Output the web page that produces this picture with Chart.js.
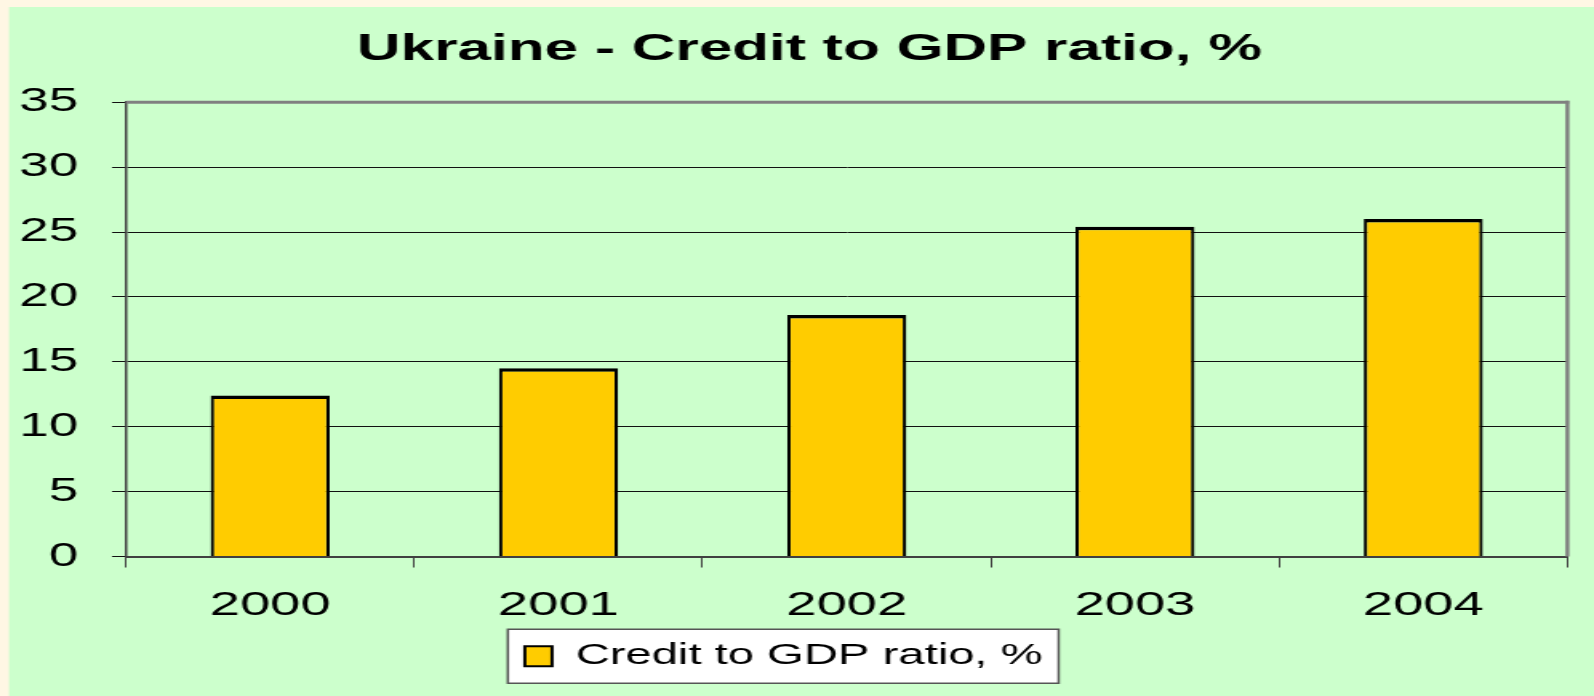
<!DOCTYPE html>
<html>
<head>
<meta charset="utf-8">
<script src="https://cdn.jsdelivr.net/npm/chart.js@4.4.1/dist/chart.umd.min.js"></script>
<style>
  html, body { margin: 0; padding: 0; background: #FFF7E4; overflow: hidden; }
  #wrap { position: absolute; left: 0; top: 0; width: 996px; height: 696px;
          transform-origin: 0 0; transform: scaleX(1.6004016); }
</style>
</head>
<body>
<div id="wrap"><canvas id="c" width="996" height="696" style="width:996px;height:696px;display:block"></canvas></div>
<script>
// ---- data ----
const categories = ['2000', '2001', '2002', '2003', '2004'];
const creditToGdp = [12.4, 14.5, 18.6, 25.4, 26.0];
const seriesLabel = 'Credit to GDP ratio, %';
const chartTitle = 'Ukraine - Credit to GDP ratio, %';
const yMin = 0, yMax = 35, yStep = 5;

// horizontal stretch of the canvas (page width / canvas width)
const SX = 1594 / 996;
const FONT = 'Arial, "Liberation Sans", Helvetica, sans-serif';

const bgPlugin = {
  id: 'bgPlugin',
  afterLayout(chart) {
    // title in the reference sits a little right of the legend's centre
    const t = chart.titleBlock;
    if (t) { t.left += 16; t.right += 16; }
  },
  beforeDraw(chart) {
    const ctx = chart.ctx;
    ctx.save();
    ctx.fillStyle = '#FFF7E4';
    ctx.fillRect(0, 0, chart.width, chart.height);
    ctx.fillStyle = '#CCFFCC';
    ctx.fillRect(9 / SX, 7, chart.width, chart.height);
    // legend frame
    const lg = chart.legend;
    if (lg && lg.legendHitBoxes && lg.legendHitBoxes.length) {
      const hb = lg.legendHitBoxes[0];
      const cy = hb.top + hb.height / 2;
      const x0 = hb.left - 17 / SX;
      const x1 = hb.left + hb.width + 16 / SX;
      ctx.fillStyle = '#FFFFFF';
      ctx.fillRect(x0, cy - 27, x1 - x0, 54);
      ctx.strokeStyle = '#555555';
      ctx.lineWidth = 1.5;
      ctx.strokeRect(x0, cy - 27, x1 - x0, 54);
    }
    ctx.restore();
  },
  afterDraw(chart) {
    const a = chart.chartArea;
    const ctx = chart.ctx;
    ctx.save();
    ctx.strokeStyle = '#808080';
    ctx.lineWidth = 3;
    ctx.beginPath();
    ctx.moveTo(a.left, a.top);
    ctx.lineTo(a.right + 1, a.top);
    ctx.stroke();
    ctx.lineWidth = 4 / SX;
    ctx.beginPath();
    ctx.moveTo(a.right, a.top - 1.5);
    ctx.lineTo(a.right, a.bottom);
    ctx.stroke();
    ctx.restore();
  }
};

new Chart(document.getElementById('c'), {
  type: 'bar',
  data: {
    labels: categories,
    datasets: [{
      label: seriesLabel,
      data: creditToGdp,
      backgroundColor: '#FFCC00',
      borderColor: '#000000',
      borderWidth: { top: 3.5, left: 3.5 / SX, right: 3.5 / SX, bottom: 0 },
      borderSkipped: false,
      categoryPercentage: 1.0,
      barPercentage: 0.413
    }]
  },
  options: {
    responsive: false,
    animation: false,
    devicePixelRatio: 1,
    layout: { padding: { left: 0, right: 16.6, top: 0, bottom: 15 } },
    plugins: {
      title: {
        display: true,
        text: chartTitle,
        color: '#000000',
        font: { family: FONT, size: 37.7, weight: 'bold', lineHeight: 1.2 },
        padding: { top: 27, bottom: 30 }
      },
      legend: {
        display: true,
        position: 'bottom',
        labels: {
          color: '#000000',
          font: { family: FONT, size: 29.5 },
          boxWidth: 17,
          boxHeight: 20,
          padding: 15.6,
          generateLabels(chart) {
            const items = Chart.defaults.plugins.legend.labels.generateLabels(chart);
            items.forEach(it => { it.lineWidth = 2; it.strokeStyle = '#000000'; });
            return items;
          }
        }
      },
      tooltip: { enabled: false }
    },
    scales: {
      x: {
        offset: true,
        afterFit(scale) { scale.height = 69.4; },
        grid: {
          offset: true,
          drawOnChartArea: false,
          drawTicks: true,
          tickLength: 11,
          color: '#404040',
          lineWidth: 1
        },
        border: { display: true, color: '#404040', width: 2 },
        ticks: {
          color: '#000000',
          font: { family: FONT, size: 34, lineHeight: 1.2 },
          padding: 17.6,
          maxRotation: 0
        }
      },
      y: {
        min: yMin,
        max: yMax,
        afterFit(scale) { scale.width = 126 / SX; },
        grid: {
          color: '#111111',
          lineWidth: 1,
          drawTicks: true,
          tickLength: 14 / SX
        },
        border: { display: true, color: '#404040', width: 1.5 },
        ticks: {
          stepSize: yStep,
          color: '#000000',
          font: { family: FONT, size: 33, lineHeight: 1.2 },
          padding: 21.25
        }
      }
    }
  },
  plugins: [bgPlugin]
});
</script>
</body>
</html>
